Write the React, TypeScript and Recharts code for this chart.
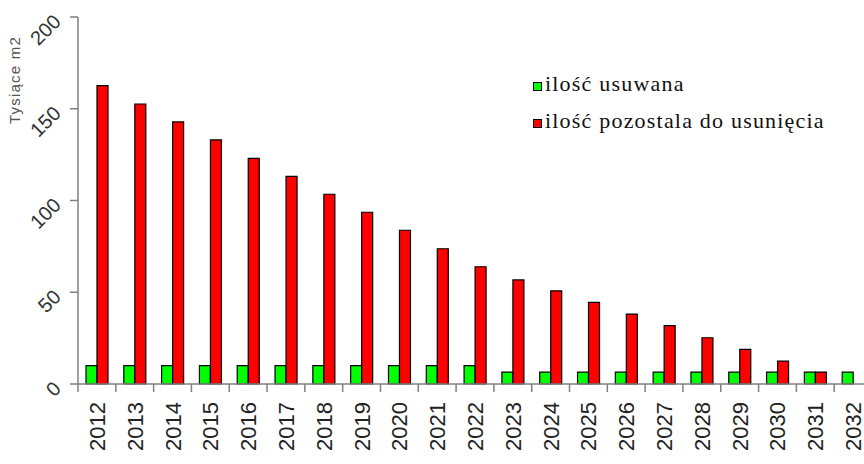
import React from 'react';
import { BarChart, Bar, XAxis, YAxis } from 'recharts';

// values (thousands of m2)
const years = ['2012', '2013', '2014', '2015', '2016', '2017', '2018', '2019', '2020', '2021', '2022',
  '2023', '2024', '2025', '2026', '2027', '2028', '2029', '2030', '2031', '2032'];
const removed = [10, 10, 10, 10, 10, 10, 10, 10, 10, 10, 10,
  6.5, 6.5, 6.5, 6.5, 6.5, 6.5, 6.5, 6.5, 6.5, 6.5];
const remaining = [162.6, 152.6, 142.8, 133, 123, 113.2, 103.4, 93.6, 83.8, 73.7, 63.9,
  56.7, 50.8, 44.5, 38.1, 31.8, 25.2, 18.9, 12.5, 6.5, null];
const yTicks = [0, 50, 100, 150, 200];

const data = years.map((y, i) => ({ year: y, removed: removed[i], remaining: remaining[i] }));

const AXIS = '#808080';

const XTick = (props: any) => {
  const { x, y, payload } = props;
  const half = payload && payload.offset ? payload.offset : 18.9;
  const left = x - half;
  return (
    <g>
      <line x1={left} y1={y - 8} x2={left} y2={y} stroke={AXIS} strokeWidth={1.5} />
      <text
        x={x + 8}
        y={y + 10}
        transform={`rotate(-90, ${x + 8}, ${y + 10})`}
        textAnchor="end"
        fontFamily="'Liberation Sans', Arial, sans-serif"
        fontSize={22}
        fill="#222"
      >
        {payload.value}
      </text>
    </g>
  );
};

const YTick = (props: any) => {
  const { x, y, payload } = props;
  const ax = x - 6;
  const ay = y + 6;
  return (
    <text
      x={ax}
      y={ay}
      transform={`rotate(-45, ${ax}, ${ay})`}
      textAnchor="end"
      fontFamily="'Liberation Sans', Arial, sans-serif"
      fontSize={20}
      fill="#333"
    >
      {payload.value}
    </text>
  );
};

const legendItems = [
  { label: 'ilość usuwana', color: '#00ff00' },
  { label: 'ilość pozostala do usunięcia', color: '#ff0000' },
];

export default function App() {
  return (
    <div style={{ position: 'fixed', left: 0, top: 0, width: 864, height: 464, overflow: 'hidden', background: '#fff' }}>
      <BarChart
        width={872}
        height={464}
        data={data}
        margin={{ top: 17, right: 0, left: 0, bottom: 0 }}
        barGap={0}
      >
        <XAxis
          dataKey="year"
          height={80}
          interval={0}
          tickLine={false}
          axisLine={{ stroke: AXIS, strokeWidth: 1.5 }}
          tick={<XTick />}
        />
        <YAxis
          width={78}
          domain={[0, 200]}
          ticks={yTicks}
          tickSize={8}
          axisLine={{ stroke: AXIS, strokeWidth: 1.5 }}
          tickLine={{ stroke: AXIS, strokeWidth: 1.5 }}
          tick={<YTick />}
        />
        <Bar dataKey="removed" fill="#00ff00" stroke="#000" strokeWidth={1.2} barSize={11} isAnimationActive={false} />
        <Bar dataKey="remaining" fill="#ff0000" stroke="#000" strokeWidth={1.2} barSize={11} isAnimationActive={false} />
      </BarChart>

      {/* legend */}
      <div style={{ position: 'absolute', left: 533, top: 70, fontFamily: "'Liberation Serif', 'Times New Roman', serif", fontSize: 22, color: '#111' }}>
        {legendItems.map(it => (
          <div key={it.label} style={{ display: 'flex', alignItems: 'center', height: 28, marginBottom: 9 }}>
            <span style={{ width: 7, height: 7, background: it.color, border: '1.5px solid #000', marginRight: 3, marginTop: 4 }} />
            <span style={{ letterSpacing: 1.2 }}>{it.label}</span>
          </div>
        ))}
      </div>

      <svg style={{ position: 'absolute', left: 0, top: 0 }} width={40} height={160}>
        <text
          x={20}
          y={80}
          transform="rotate(-90, 20, 80)"
          textAnchor="middle"
          fontFamily="'Liberation Sans', Arial, sans-serif"
          fontSize={15}
          letterSpacing={1.2}
          fill="#555"
        >
          Tysiące m2
        </text>
      </svg>
    </div>
  );
}
